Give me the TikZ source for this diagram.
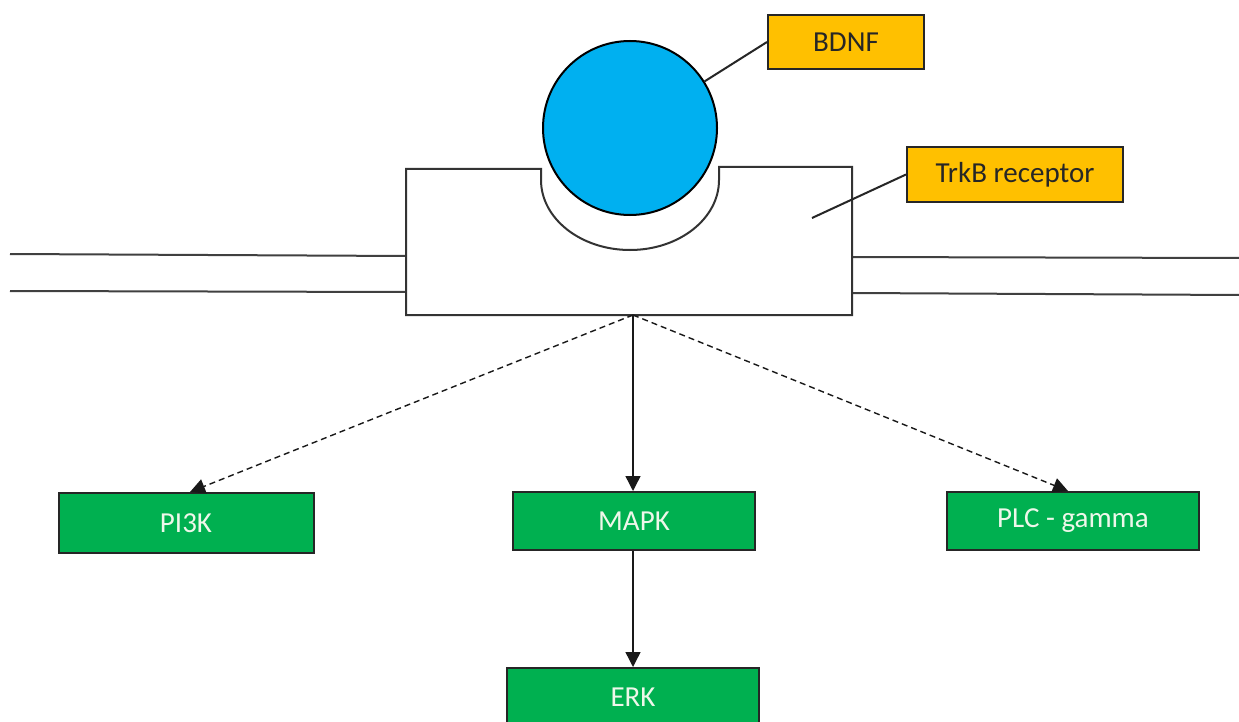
\documentclass[tikz,border=0pt]{standalone}
\usepackage{fontspec}
\setmainfont{Carlito}
\usetikzlibrary{arrows.meta}

\definecolor{ligandblue}{HTML}{00B0F0}
\definecolor{labelgold}{HTML}{FFC000}
\definecolor{kinasegreen}{HTML}{00B050}
\definecolor{kinasetext}{HTML}{EEF7EA}

\begin{document}
\begin{tikzpicture}[
    x=1pt, y=-1pt,
    callout/.style={rectangle, draw=black!85, fill=labelgold, line width=2pt, font=\fontsize{29}{34}\selectfont, text=black!85, inner sep=0pt},
    kinase/.style={rectangle, draw=black!85, fill=kinasegreen, line width=2pt, font=\fontsize{29}{34}\selectfont, text=kinasetext, minimum height=58pt, inner sep=0pt},
    membrane/.style={line width=2pt, black!75},
    pointer/.style={line width=2pt, black!85},
    signal/.style={-{Triangle[width=15pt,length=15pt]}, line width=1.4pt, black!90},
    weak/.style={signal, dash pattern=on 6pt off 4pt}
]

% page frame
\clip (0,0) rectangle (1239,722);
\fill[white] (0,0) rectangle (1239,722);

% Cell membrane
\draw[membrane] (10,254) -- (406,256);
\draw[membrane] (10,291) -- (406,292);
\draw[membrane] (852,257) -- (1239,258);
\draw[membrane] (852,293) -- (1239,295);

% TrkB receptor with binding pocket
\draw[line width=2pt, black!80] (541,169) -- (406,169) -- (406,315) -- (852,315) -- (852,167) -- (719,167) -- (719,180)
    arc[start angle=0, end angle=-180, x radius=89pt, y radius=70pt] -- cycle;
\coordinate (recbase) at (633,315);
\coordinate (recpoint) at (812,218);

% BDNF ligand
\node[circle, draw=black, fill=ligandblue, line width=2pt, minimum size=174pt, inner sep=0pt] (ball) at (630,128) {};

% Labels
\node[callout, minimum width=156pt, minimum height=54pt] (bdnf) at (846,42) {BDNF};
\node[callout, minimum width=216pt, minimum height=55pt] (trkb) at (1015,174.5) {TrkB receptor};
\draw[pointer] (ball.32) -- (bdnf.west);
\draw[pointer] (recpoint) -- (trkb.west);

% Downstream pathways
\node[kinase, minimum width=255pt, minimum height=60pt] (pi3k) at (186,523) {PI3K};
\node[kinase, minimum width=242pt] (mapk) at (634,521) {MAPK};
\node[kinase, minimum width=252pt] (plc) at (1073,521) {PLC - gamma};
\node[kinase, minimum width=252pt] (erk) at (633,697) {ERK};

% Signalling arrows
\draw[weak] (recbase) -- ([xshift=4pt]pi3k.north);
\draw[signal] (recbase) -- (recbase |- mapk.north);
\draw[weak] (recbase) -- ([xshift=-5pt]plc.north);
\draw[signal] (mapk.south -| erk.north) -- (erk.north);

\end{tikzpicture}
\end{document}
